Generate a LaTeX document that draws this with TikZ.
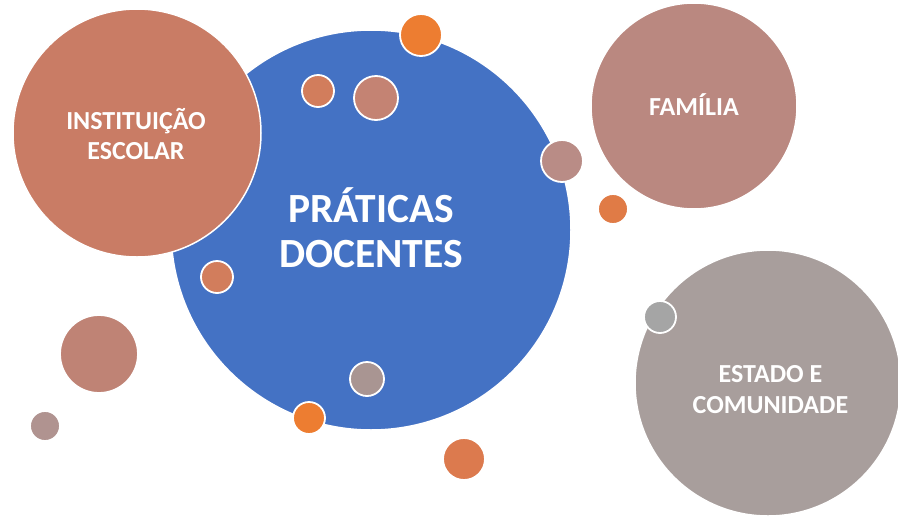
\documentclass[tikz,border=0pt]{standalone}
\usepackage{fontspec}
\setmainfont{Carlito}
\definecolor{pdblue}{HTML}{4472C4}
\definecolor{pdsalmon}{HTML}{C97C65}
\definecolor{pdrose}{HTML}{BA8880}
\definecolor{pdtaupe}{HTML}{A89E9C}
\definecolor{pdgray}{HTML}{A5A5A5}
\definecolor{pdorange}{HTML}{ED7D31}
\definecolor{pdorangeb}{HTML}{E07B46}
\definecolor{pdorangec}{HTML}{DC7A4E}
\definecolor{pdclay}{HTML}{D27D5C}
\definecolor{pdroseb}{HTML}{C48373}
\definecolor{pdrosec}{HTML}{B98C86}
\definecolor{pdrosed}{HTML}{BF8375}
\definecolor{pdtaupeb}{HTML}{B09390}
\definecolor{pdtaupec}{HTML}{A99592}
\tikzset{
  pdbubble/.style={
    circle, draw=white, line width=1.5pt, inner sep=0pt, minimum size=#1},
  pddot/.style={circle, draw=white, line width=1.8pt, inner sep=0pt},
  pdlabel/.style={
    text=white, align=center, inner sep=0pt,
    font=\fontsize{26}{30.5}\selectfont\bfseries},
  pdtitle/.style={
    pdlabel, font=\fontsize{41.5}{45}\selectfont\bfseries},
}
\begin{document}
\begin{tikzpicture}[x=1pt, y=-1pt]
\clip (0, 0) rectangle (898, 520);
\fill[white] (0, 0) rectangle (898, 520);

% Outer bubbles.
\node[pdbubble=266pt, fill=pdtaupe] (estado) at (768, 383) {};
\node[pdlabel] (estadotext) at ([shift={(2.5, 6.5)}]estado.center)
  {ESTADO E\\COMUNIDADE};
\node[pdbubble=206pt, fill=pdrose] (familia) at (694, 106) {};
\node[pdlabel] (familiatext) at ([shift={(0, -1.5)}]familia.center)
  {FAMÍLIA};

% Centre bubble.
\node[pdbubble=400pt, fill=pdblue] (praticas) at (371, 230) {};
\node[pdtitle] (praticastext) at ([shift={(0, -2.5)}]praticas.center)
  {PRÁTICAS\\DOCENTES};
\node[pdbubble=248pt, fill=pdsalmon] (escola) at (137, 133) {};
\node[pdlabel] (escolatext) at ([shift={(-1, 1)}]escola.center)
  {INSTITUIÇÃO\\ESCOLAR};

% Small dots.
\foreach \x/\y/\r/\c [count=\i] in {
    421/35/21/pdorange, 318/91/16/pdclay, 376/98/22/pdroseb,
    562/161/21/pdrosec, 613/209/15/pdorangeb, 217/277/16/pdclay,
    99/354/39/pdrosed, 45/426/15/pdtaupeb, 367/379/17/pdtaupec,
    309/418/16/pdorange, 464/459/21/pdorangec, 660/317/16/pdgray} {
  \node[pddot, fill=\c, minimum size={2*\r}] (dot\i) at (\x, \y) {};
}

\end{tikzpicture}
\end{document}
